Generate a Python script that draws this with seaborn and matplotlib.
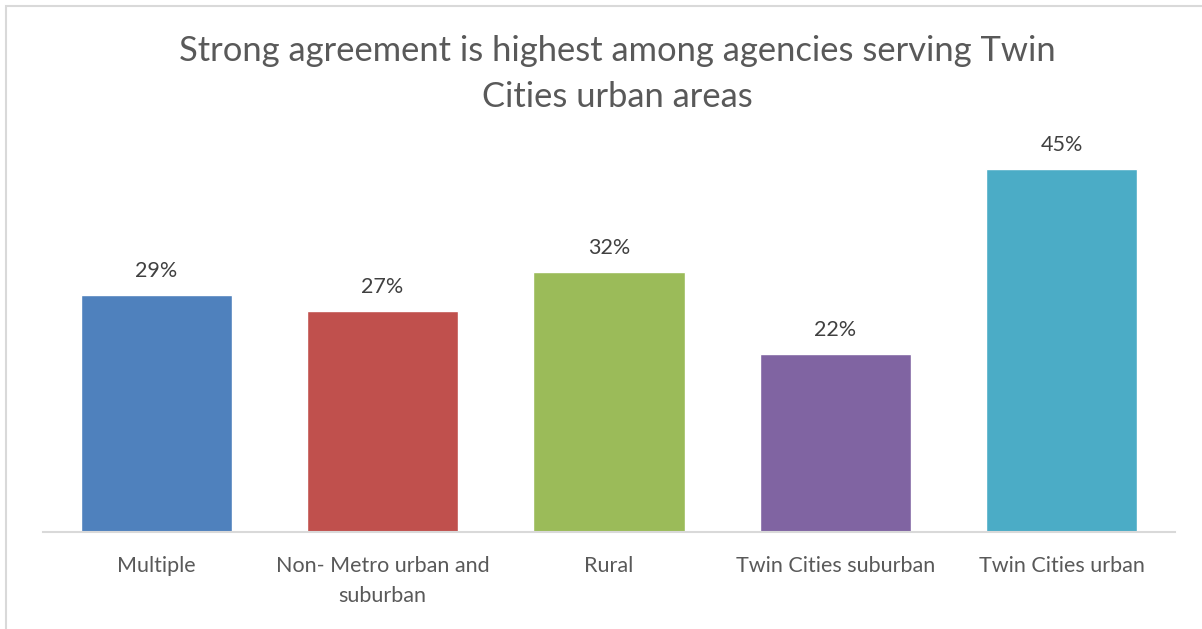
import numpy as np
import pandas as pd
import seaborn as sns
import matplotlib.pyplot as plt
from matplotlib.patches import Rectangle

sns.set_style("white")
plt.rcParams['font.family'] = ['Lato', 'DejaVu Sans']

categories = ["Multiple", "Non- Metro urban and suburban", "Rural",
              "Twin Cities suburban", "Twin Cities urban"]
tick_labels = ["Multiple", "Non- Metro urban and\nsuburban", "Rural",
               "Twin Cities suburban", "Twin Cities urban"]
values = [29.4, 27.4, 32.3, 22.1, 45.0]
colors = ["#4F81BD", "#C0504D", "#9BBB59", "#8064A2", "#4BACC6"]

df = pd.DataFrame({"area": categories, "pct": values})

fig = plt.figure(figsize=(12.02, 6.29), dpi=100)
ax = fig.add_axes([43 / 1202, 1 - 532 / 629, (1175 - 43) / 1202, (532 - 129) / 629])

sns.barplot(data=df, x="area", y="pct", hue="area", palette=colors,
            width=0.667, saturation=1, legend=False, ax=ax)

ax.set_ylim(0, 50)
ax.set_xlim(-0.5, 4.5)
ax.set_yticks([])
ax.set_xlabel("")
ax.set_ylabel("")
ax.set_xticks(range(len(tick_labels)))
ax.set_xticklabels(tick_labels, fontsize=15.5, color="#595959", linespacing=1.62)
ax.tick_params(axis="x", length=0, pad=17)

for c in ax.containers:
    ax.bar_label(c, fmt="%.0f%%", padding=10, fontsize=15.5, color="#404040")

sns.despine(ax=ax, left=True, top=True, right=True)
ax.spines["bottom"].set_color("#D9D9D9")
ax.spines["bottom"].set_linewidth(1.5)

fig.text(617 / 1202, 1 - 74 / 629,
         "Strong agreement is highest among agencies serving Twin\nCities urban areas",
         ha="center", va="center", fontsize=24.8, color="#595959", linespacing=1.53)

# chart border
fig.patches.append(Rectangle((6 / 1202, -0.1), 1.2, (629 - 6) / 629 + 0.1,
                             transform=fig.transFigure, fill=False,
                             edgecolor="#D9D9D9", linewidth=1.5))

fig.savefig("out.png", dpi=100)
